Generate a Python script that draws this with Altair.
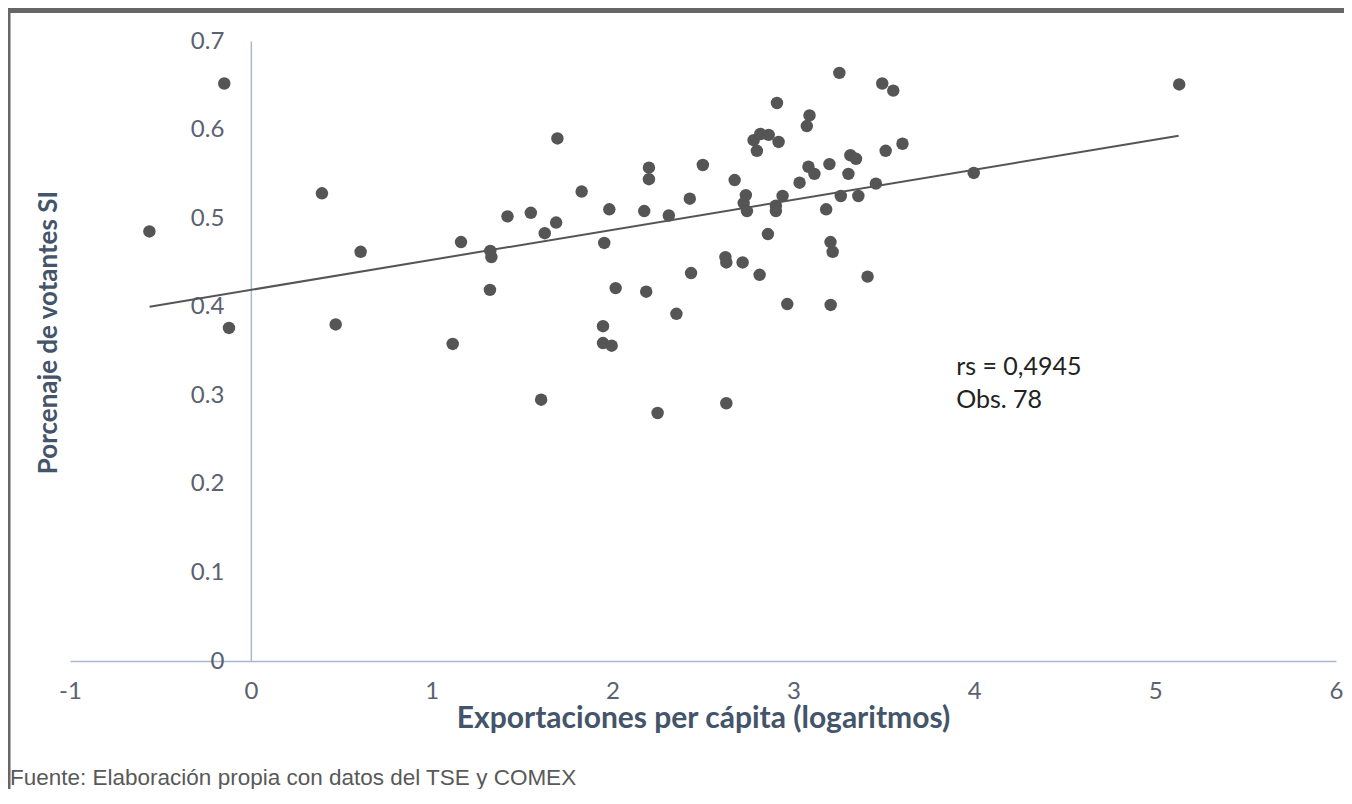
import altair as alt
import pandas as pd

# ---- data ----
export_pc = [-0.561, -0.147, -0.121, 0.393, 0.469, 0.607, 1.116, 1.162, 1.322, 1.324,
             1.330, 1.419, 1.548, 1.605, 1.625, 1.688, 1.695, 1.829, 1.947, 1.947,
             1.954, 1.982, 1.995, 2.017, 2.175, 2.186, 2.201, 2.201, 2.249, 2.311,
             2.353, 2.427, 2.434, 2.499, 2.624, 2.629, 2.629, 2.675, 2.719, 2.725,
             2.737, 2.743, 2.780, 2.798, 2.813, 2.817, 2.859, 2.863, 2.903, 2.903,
             2.909, 2.918, 2.940, 2.966, 3.034, 3.074, 3.083, 3.089, 3.116, 3.181,
             3.199, 3.205, 3.206, 3.217, 3.254, 3.262, 3.304, 3.315, 3.346, 3.359,
             3.410, 3.456, 3.491, 3.510, 3.552, 3.603, 3.997, 5.133]
votes_si = [0.485, 0.652, 0.376, 0.528, 0.380, 0.462, 0.358, 0.473, 0.419, 0.463,
            0.456, 0.502, 0.506, 0.295, 0.483, 0.495, 0.590, 0.530, 0.378, 0.359,
            0.472, 0.510, 0.356, 0.421, 0.508, 0.417, 0.557, 0.544, 0.280, 0.503,
            0.392, 0.522, 0.438, 0.560, 0.456, 0.450, 0.291, 0.543, 0.450, 0.517,
            0.526, 0.508, 0.588, 0.576, 0.436, 0.595, 0.482, 0.594, 0.514, 0.508,
            0.630, 0.586, 0.525, 0.403, 0.540, 0.604, 0.558, 0.616, 0.550, 0.510,
            0.561, 0.473, 0.402, 0.462, 0.664, 0.525, 0.550, 0.571, 0.567, 0.525,
            0.434, 0.539, 0.652, 0.576, 0.644, 0.584, 0.551, 0.651]
trend_x = [-0.56, 5.13]
trend_y = [0.400, 0.593]
note_text = ["rs = 0,4945", "Obs. 78"]
note_x = [3.9, 3.9]
note_y = [0.332, 0.295]
x_ticks = [-1, 0, 1, 2, 3, 4, 5, 6]
y_ticks = [0, 0.1, 0.2, 0.3, 0.4, 0.5, 0.6, 0.7]
x_title = "Exportaciones per cápita (logaritmos)"
y_title = "Porcenaje de votantes SI"
footnote = "Fuente: Elaboración propia con datos del TSE y COMEX"

# ---- layout / style ----
W, H = 1266, 620
PAD_L, PAD_T, PAD_R, PAD_B = 62, 33, 8, 128
FONT = "Lato"
AXIS_TXT = "#5b6170"
TITLE_TXT = "#44546a"
AXIS_LINE = "#a9b9cd"
DOT = "#555555"
FRAME = "#666666"

pts = pd.DataFrame({"x": export_pc, "y": votes_si})
trend = pd.DataFrame({"x": trend_x, "y": trend_y})
notes = pd.DataFrame({"x": note_x, "y": note_y, "t": note_text})

xs = alt.Scale(domain=[-1, 6], nice=False, zero=False)
ys = alt.Scale(domain=[0, 0.7], nice=False, zero=False)

x_axis = alt.Axis(
    values=x_ticks, labelExpr="'' + datum.value", ticks=False, grid=False,
    domainColor=AXIS_LINE, domainWidth=1.5,
    labelFont=FONT, labelFontSize=24, labelColor=AXIS_TXT, labelPadding=18,
    labelFlush=False,
    title=x_title, titleFont=FONT, titleFontSize=30, titleFontWeight="bold",
    titleColor=TITLE_TXT, titleX=W / 2, titleY=57, titleAlign="center",
    titleBaseline="middle",
)
y_axis = alt.Axis(
    values=y_ticks,
    labelExpr="datum.value == 0 ? '0' : format(datum.value, '.1f')",
    ticks=False, grid=False, offset=-W / 7,
    domainColor=AXIS_LINE, domainWidth=1.5,
    labelFont=FONT, labelFontSize=24, labelColor=AXIS_TXT, labelPadding=27,
    title=y_title, titleFont=FONT, titleFontSize=26, titleFontWeight="bold",
    titleColor=TITLE_TXT, titleX=-(W / 7) - 22, titleY=291, titleAngle=270,
    titleAlign="center", titleBaseline="middle",
)

points = alt.Chart(pts).mark_circle(size=155, color=DOT, opacity=1).encode(
    x=alt.X("x:Q", scale=xs, axis=x_axis),
    y=alt.Y("y:Q", scale=ys, axis=y_axis),
)
line = alt.Chart(trend).mark_line(color=DOT, strokeWidth=2).encode(
    x=alt.X("x:Q", scale=xs), y=alt.Y("y:Q", scale=ys)
)
text = alt.Chart(notes).mark_text(
    align="left", baseline="middle", font=FONT, fontSize=25, color="#222222"
).encode(x=alt.X("x:Q", scale=xs), y=alt.Y("y:Q", scale=ys), text="t:N")

# decorative frame (top band and left border) and source note
band = alt.Chart(pd.DataFrame({"k": [0]})).mark_rect(color=FRAME).encode(
    x=alt.value(-PAD_L), x2=alt.value(W + PAD_R), y=alt.value(-PAD_T), y2=alt.value(-PAD_T + 5)
)
border = alt.Chart(pd.DataFrame({"k": [0]})).mark_rect(color=FRAME).encode(
    x=alt.value(-PAD_L), x2=alt.value(-PAD_L + 2.5), y=alt.value(-PAD_T), y2=alt.value(H + PAD_B)
)
source = alt.Chart(pd.DataFrame({"t": [footnote]})).mark_text(
    align="left", baseline="middle", font="Liberation Sans", fontSize=22.5, color="#595959"
).encode(x=alt.value(-PAD_L + 2), y=alt.value(778 - 41), text="t:N")

chart = alt.layer(line, points, text, band, border, source).properties(
    width=W, height=H,
    autosize=alt.AutoSizeParams(type="none"),
    padding={"left": PAD_L, "top": PAD_T, "right": PAD_R, "bottom": PAD_B},
    background="white",
).configure_view(stroke=None)

chart.save("out.html", embed_options={"renderer": "svg", "actions": False})
